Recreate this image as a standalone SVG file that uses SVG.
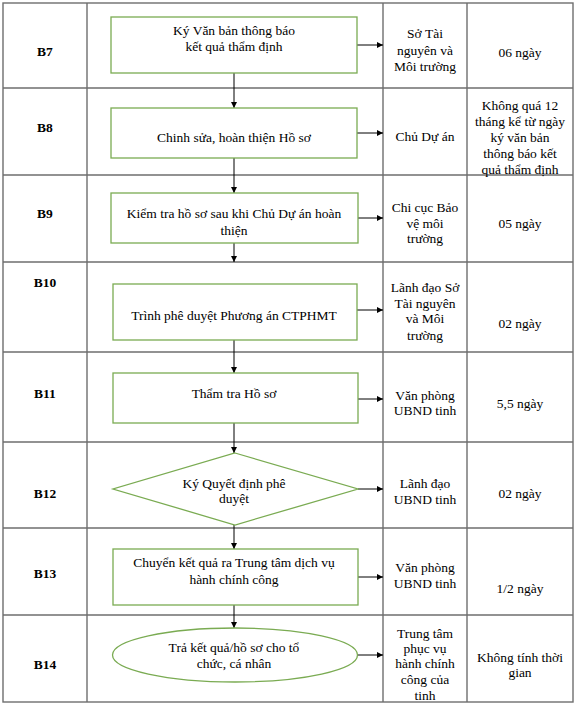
<svg xmlns="http://www.w3.org/2000/svg" width="576" height="706" viewBox="0 0 576 706">
<defs>
<marker id="ah" viewBox="0 0 10 10" refX="10" refY="5" markerWidth="6" markerHeight="6" markerUnits="userSpaceOnUse" orient="auto">
<path d="M0,0 L10,5 L0,10 z" fill="#000"/>
</marker>
</defs>
<style>
.grid{stroke:#6e6e6e;stroke-width:1.4;fill:none}
.shape{fill:#fff;stroke:#7aab52;stroke-width:1.3}
.conn{stroke:#000;stroke-width:1;fill:none;marker-end:url(#ah)}
text{font-family:"Liberation Serif","Times New Roman",serif;font-size:13.5px;fill:#000;text-anchor:middle}
.lbl{font-weight:bold}
</style>
<rect width="576" height="706" fill="#fff"/>
<g id="table" class="grid">
<rect x="3" y="3" width="570" height="699"/>
<line x1="87" y1="3" x2="87" y2="702"/>
<line x1="383" y1="3" x2="383" y2="702"/>
<line x1="467" y1="3" x2="467" y2="702"/>
<line x1="3" y1="88" x2="573" y2="88"/>
<line x1="3" y1="175" x2="573" y2="175"/>
<line x1="3" y1="262" x2="573" y2="262"/>
<line x1="3" y1="352" x2="573" y2="352"/>
<line x1="3" y1="442" x2="573" y2="442"/>
<line x1="3" y1="528" x2="573" y2="528"/>
<line x1="3" y1="615" x2="573" y2="615"/>
</g>
<g id="labels" font-family="Liberation Serif, serif">
<text class="lbl" x="45" y="56">B7</text>
<text class="lbl" x="45" y="132">B8</text>
<text class="lbl" x="45" y="218">B9</text>
<text class="lbl" x="45" y="287">B10</text>
<text class="lbl" x="45" y="398">B11</text>
<text class="lbl" x="45" y="498">B12</text>
<text class="lbl" x="45" y="578">B13</text>
<text class="lbl" x="45" y="669">B14</text>
</g>
<g id="connectors">
<line class="conn" x1="234" y1="73" x2="234" y2="108"/>
<line class="conn" x1="234" y1="158" x2="234" y2="193"/>
<line class="conn" x1="234" y1="243" x2="234" y2="262"/>
<line class="conn" x1="234" y1="340" x2="234" y2="373"/>
<line class="conn" x1="234" y1="423" x2="234" y2="453"/>
<line class="conn" x1="234" y1="525" x2="234" y2="549"/>
<line class="conn" x1="234" y1="605" x2="234" y2="628"/>
<line class="conn" x1="357" y1="45" x2="383" y2="45"/>
<line class="conn" x1="357" y1="133" x2="383" y2="133"/>
<line class="conn" x1="358" y1="218" x2="383" y2="218"/>
<line class="conn" x1="357" y1="310" x2="383" y2="310"/>
<line class="conn" x1="358" y1="399" x2="383" y2="399"/>
<line class="conn" x1="358" y1="489" x2="383" y2="489"/>
<line class="conn" x1="358" y1="577" x2="383" y2="577"/>
<line class="conn" x1="358" y1="655" x2="383" y2="655"/>
</g>
<g id="n-b7">
<rect class="shape" x="111" y="17" width="246" height="56"/>
<text x="234" y="35">Ký Văn bản thông báo</text>
<text x="234" y="51">kết quả thẩm định</text>
</g>
<g id="n-b8">
<rect class="shape" x="111" y="108" width="246" height="50"/>
<text x="234" y="142">Chinh sửa, hoàn thiện Hồ sơ</text>
</g>
<g id="n-b9">
<rect class="shape" x="111" y="193" width="247" height="50"/>
<text x="234" y="218">Kiểm tra hồ sơ sau khi Chủ Dự án hoàn</text>
<text x="234" y="235">thiện</text>
</g>
<g id="n-b10">
<rect class="shape" x="113" y="284" width="244" height="56"/>
<text x="234" y="320">Trình phê duyệt Phương án CTPHMT</text>
</g>
<g id="n-b11">
<rect class="shape" x="113" y="373" width="245" height="50"/>
<text x="234" y="398">Thẩm tra Hồ sơ</text>
</g>
<g id="n-b12">
<polygon class="shape" points="235,453 358,489 235,525 113,489"/>
<text x="234" y="488">Ký Quyết định phê</text>
<text x="234" y="503">duyệt</text>
</g>
<g id="n-b13">
<rect class="shape" x="113" y="549" width="245" height="56"/>
<text x="234" y="567">Chuyển kết quả ra Trung tâm dịch vụ</text>
<text x="234" y="584">hành chính công</text>
</g>
<g id="n-b14">
<ellipse class="shape" cx="235" cy="655" rx="122.5" ry="27"/>
<text x="234" y="652">Trả kết quả/hồ sơ cho tổ</text>
<text x="234" y="668">chức, cá nhân</text>
</g>
<g id="col3">
<text x="425" y="38">Sở Tài</text>
<text x="425" y="55">nguyên và</text>
<text x="425" y="71">Môi trường</text>
<text x="425" y="141">Chủ Dự án</text>
<text x="425" y="212">Chi cục Bảo</text>
<text x="425" y="228">vệ môi</text>
<text x="425" y="243">trường</text>
<text x="425" y="292">Lãnh đạo Sở</text>
<text x="425" y="308">Tài nguyên</text>
<text x="425" y="323">và Môi</text>
<text x="425" y="340">trường</text>
<text x="425" y="400">Văn phòng</text>
<text x="425" y="415">UBND tinh</text>
<text x="425" y="488">Lãnh đạo</text>
<text x="425" y="504">UBND tinh</text>
<text x="425" y="572">Văn phòng</text>
<text x="425" y="588">UBND tinh</text>
<text x="425" y="638">Trung tâm</text>
<text x="425" y="653">phục vụ</text>
<text x="425" y="668">hành chính</text>
<text x="425" y="684">công của</text>
<text x="425" y="700">tinh</text>
</g>
<g id="col4">
<text x="520" y="57">06 ngày</text>
<text x="520" y="110">Không quá 12</text>
<text x="520" y="126">tháng kể từ ngày</text>
<text x="520" y="142">ký văn bản</text>
<text x="520" y="158">thông báo kết</text>
<text x="520" y="174">quả thẩm định</text>
<text x="520" y="228">05 ngày</text>
<text x="520" y="328">02 ngày</text>
<text x="520" y="408">5,5 ngày</text>
<text x="520" y="498">02 ngày</text>
<text x="520" y="593">1/2 ngày</text>
<text x="520" y="662">Không tính thời</text>
<text x="520" y="677">gian</text>
</g>
</svg>
